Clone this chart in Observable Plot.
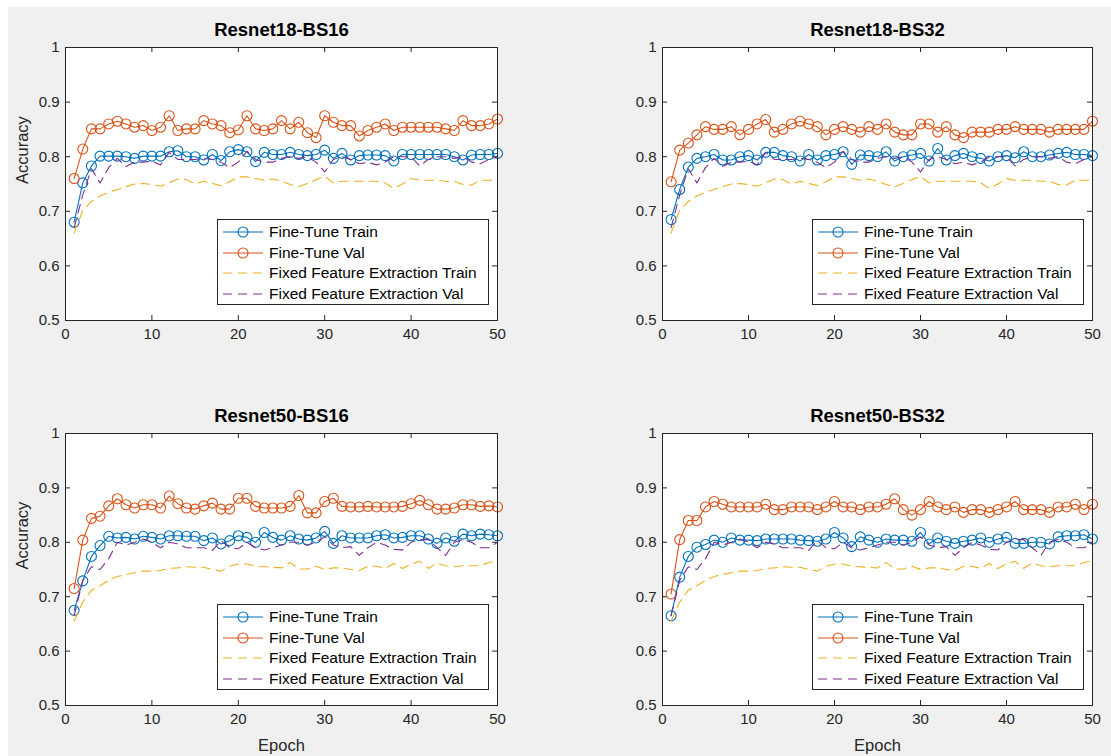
<!DOCTYPE html>
<html><head><meta charset="utf-8">
<script src="https://cdn.jsdelivr.net/npm/d3@7"></script>
<script src="https://cdn.jsdelivr.net/npm/@observablehq/plot@0.6"></script>
<style>
body{margin:0;background:#fff;}
#page{position:relative;width:1111px;height:756px;overflow:hidden;background:#fff;font-family:"Liberation Sans",Arial,sans-serif;}
#bg{position:absolute;left:8px;top:7px;right:0;bottom:0;background:#f0f0f0;}
.panel{position:absolute;}
.legend{position:absolute;background:#fff;border:1px solid #262626;box-sizing:border-box;font-size:15.5px;color:#000;}
.legend .row{position:absolute;left:0;height:20px;display:flex;align-items:center;white-space:nowrap;}
.legend svg{display:block;flex:none;}
</style></head>
<body><div id="page"><div id="bg"></div></div>
<script>
const epochs = d3.range(1, 51);
const titles = ["Resnet18-BS16", "Resnet18-BS32", "Resnet50-BS16", "Resnet50-BS32"];
const seriesNames = ["Fine-Tune Train", "Fine-Tune Val", "Fixed Feature Extraction Train", "Fixed Feature Extraction Val"];
const seriesColors = ["#0072BD", "#D95319", "#EDB120", "#7E2F8E"];
const xTicks = [0, 10, 20, 30, 40, 50];
const yTicks = [0.5, 0.6, 0.7, 0.8, 0.9, 1];
const yTickLabels = ["0.5", "0.6", "0.7", "0.8", "0.9", "1"];

const r18bs16Train = [0.680,0.752,0.783,0.801,0.801,0.801,0.800,0.797,0.801,0.801,
 0.801,0.809,0.811,0.800,0.800,0.794,0.804,0.793,0.809,0.813,
 0.809,0.791,0.808,0.804,0.804,0.808,0.804,0.802,0.804,0.812,
 0.797,0.806,0.794,0.802,0.803,0.803,0.802,0.792,0.804,0.804,
 0.804,0.804,0.804,0.804,0.800,0.794,0.803,0.804,0.804,0.806];
const r18bs16Val = [0.760,0.814,0.851,0.851,0.860,0.865,0.860,0.854,0.857,0.848,
 0.854,0.875,0.848,0.851,0.851,0.866,0.860,0.857,0.844,0.849,
 0.875,0.851,0.848,0.851,0.866,0.851,0.863,0.844,0.835,0.875,
 0.863,0.857,0.857,0.838,0.848,0.854,0.860,0.848,0.854,0.854,
 0.854,0.854,0.854,0.851,0.848,0.866,0.857,0.857,0.860,0.869];
const r18bs32Train = [0.685,0.740,0.781,0.797,0.800,0.804,0.794,0.794,0.800,0.802,
 0.794,0.808,0.808,0.802,0.800,0.792,0.804,0.794,0.802,0.804,
 0.809,0.786,0.803,0.802,0.800,0.809,0.792,0.800,0.803,0.806,
 0.792,0.815,0.794,0.802,0.806,0.800,0.797,0.792,0.800,0.802,
 0.798,0.809,0.800,0.800,0.803,0.806,0.808,0.804,0.804,0.802];
const r18bs32Val = [0.754,0.812,0.825,0.840,0.855,0.850,0.850,0.855,0.840,0.850,
 0.860,0.868,0.845,0.850,0.860,0.865,0.860,0.855,0.840,0.850,
 0.855,0.850,0.845,0.855,0.850,0.860,0.845,0.840,0.840,0.860,
 0.860,0.845,0.855,0.840,0.835,0.845,0.845,0.845,0.850,0.850,
 0.855,0.850,0.850,0.850,0.845,0.850,0.850,0.850,0.850,0.865];
const r50bs16Train = [0.675,0.729,0.774,0.794,0.811,0.808,0.809,0.806,0.811,0.809,
 0.806,0.812,0.812,0.811,0.811,0.803,0.808,0.797,0.803,0.812,
 0.809,0.800,0.818,0.809,0.804,0.812,0.806,0.804,0.808,0.820,
 0.798,0.812,0.808,0.808,0.808,0.812,0.814,0.808,0.809,0.812,
 0.812,0.806,0.798,0.808,0.802,0.815,0.812,0.815,0.814,0.812];
const r50bs16Val = [0.715,0.804,0.844,0.848,0.867,0.880,0.869,0.863,0.869,0.869,
 0.863,0.885,0.871,0.863,0.861,0.867,0.872,0.861,0.861,0.881,
 0.881,0.866,0.863,0.863,0.863,0.866,0.886,0.854,0.854,0.875,
 0.881,0.866,0.865,0.865,0.866,0.865,0.865,0.865,0.866,0.871,
 0.877,0.869,0.861,0.861,0.863,0.869,0.869,0.866,0.867,0.865];
const r50bs32Train = [0.665,0.736,0.774,0.791,0.796,0.804,0.800,0.808,0.804,0.804,
 0.803,0.806,0.806,0.806,0.806,0.804,0.803,0.802,0.806,0.818,
 0.808,0.792,0.810,0.804,0.800,0.806,0.804,0.804,0.802,0.818,
 0.797,0.808,0.802,0.798,0.802,0.804,0.808,0.800,0.806,0.809,
 0.798,0.798,0.800,0.800,0.797,0.810,0.812,0.812,0.814,0.806];
const r50bs32Val = [0.705,0.805,0.840,0.840,0.865,0.875,0.870,0.865,0.865,0.865,
 0.865,0.870,0.860,0.860,0.865,0.865,0.865,0.860,0.865,0.875,
 0.865,0.865,0.860,0.865,0.865,0.870,0.880,0.860,0.850,0.860,
 0.875,0.865,0.860,0.865,0.855,0.860,0.860,0.855,0.860,0.865,
 0.875,0.860,0.860,0.860,0.855,0.865,0.865,0.870,0.860,0.870];
const r18FixedTrain = [0.660,0.702,0.718,0.728,0.735,0.740,0.745,0.750,0.751,0.749,
 0.746,0.752,0.759,0.758,0.750,0.755,0.751,0.747,0.754,0.763,
 0.763,0.760,0.757,0.759,0.755,0.749,0.745,0.751,0.758,0.764,
 0.752,0.755,0.755,0.755,0.755,0.755,0.752,0.742,0.750,0.760,
 0.757,0.757,0.757,0.755,0.755,0.749,0.748,0.757,0.757,0.757];
const r18FixedVal = [0.670,0.730,0.778,0.752,0.780,0.797,0.782,0.790,0.790,0.792,
 0.785,0.808,0.795,0.795,0.795,0.797,0.795,0.790,0.780,0.790,
 0.810,0.795,0.790,0.790,0.797,0.800,0.797,0.800,0.790,0.772,
 0.795,0.800,0.795,0.787,0.790,0.785,0.790,0.800,0.800,0.800,
 0.783,0.795,0.800,0.800,0.797,0.800,0.790,0.787,0.795,0.800];
const r50FixedTrain = [0.655,0.690,0.712,0.720,0.730,0.737,0.741,0.744,0.747,0.747,
 0.748,0.752,0.753,0.755,0.754,0.754,0.750,0.747,0.756,0.760,
 0.760,0.756,0.755,0.754,0.753,0.763,0.751,0.751,0.756,0.750,
 0.753,0.753,0.750,0.748,0.756,0.756,0.752,0.761,0.752,0.760,
 0.765,0.752,0.762,0.757,0.755,0.757,0.757,0.757,0.763,0.766];
const r50FixedVal = [0.665,0.730,0.755,0.750,0.770,0.800,0.795,0.800,0.806,0.800,
 0.790,0.800,0.797,0.790,0.790,0.790,0.785,0.803,0.790,0.788,
 0.800,0.790,0.786,0.790,0.795,0.800,0.800,0.795,0.800,0.810,
 0.795,0.790,0.792,0.776,0.790,0.800,0.795,0.787,0.786,0.800,
 0.805,0.805,0.790,0.776,0.800,0.805,0.800,0.790,0.790,0.800];

const panelSeries = [
  [r18bs16Train, r18bs16Val, r18FixedTrain, r18FixedVal],
  [r18bs32Train, r18bs32Val, r18FixedTrain, r18FixedVal],
  [r50bs16Train, r50bs16Val, r50FixedTrain, r50FixedVal],
  [r50bs32Train, r50bs32Val, r50FixedTrain, r50FixedVal]
];

// layout (pixel boxes of each subplot)
const layout = [
  {left: 0, top: 0, w: 555, h: 378, ml: 65, mr: 58, mt: 47, mb: 58, ylab: true, xlab: false},
  {left: 555, top: 0, w: 556, h: 378, ml: 107, mr: 19, mt: 47, mb: 58, ylab: false, xlab: false},
  {left: 0, top: 378, w: 555, h: 378, ml: 65, mr: 58, mt: 55, mb: 51, ylab: true, xlab: true},
  {left: 555, top: 378, w: 556, h: 378, ml: 107, mr: 19, mt: 55, mb: 51, ylab: false, xlab: true}
];

const page = document.getElementById("page");
const axisColor = "#262626";
const font = "Liberation Sans, Arial, Helvetica, sans-serif";

layout.forEach((p, i) => {
  const fw = p.w - p.ml - p.mr, fh = p.h - p.mt - p.mb;
  const rows = [];
  panelSeries[i].forEach((vals, s) => vals.forEach((v, k) => rows.push({epoch: epochs[k], acc: v, series: seriesNames[s]})));
  const of = name => rows.filter(d => d.series === name);
  const marks = [
    Plot.frame({fill: "white", stroke: null}),
    Plot.axisX(xTicks, {tickSize: 0, tickPadding: 8, label: null, fontSize: 15, fill: axisColor, tickFormat: d => String(d)}),
    Plot.axisY(yTicks, {tickSize: 0, tickPadding: 6, label: null, fontSize: 15, fill: axisColor, tickFormat: d => yTickLabels[yTicks.indexOf(d)]}),
    Plot.ruleX(xTicks, {x: d => d, insetTop: fh - 5, stroke: axisColor}),
    Plot.ruleX(xTicks, {x: d => d, insetBottom: fh - 5, stroke: axisColor}),
    Plot.ruleY(yTicks, {y: d => d, insetRight: fw - 5, stroke: axisColor}),
    Plot.ruleY(yTicks, {y: d => d, insetLeft: fw - 5, stroke: axisColor}),
    Plot.line(of(seriesNames[0]), {x: "epoch", y: "acc", stroke: seriesColors[0], strokeWidth: 1.1}),
    Plot.dot(of(seriesNames[0]), {x: "epoch", y: "acc", stroke: seriesColors[0], r: 5, strokeWidth: 1.1, fill: "none"}),
    Plot.line(of(seriesNames[1]), {x: "epoch", y: "acc", stroke: seriesColors[1], strokeWidth: 1.1}),
    Plot.dot(of(seriesNames[1]), {x: "epoch", y: "acc", stroke: seriesColors[1], r: 5, strokeWidth: 1.1, fill: "none"}),
    Plot.line(of(seriesNames[2]), {x: "epoch", y: "acc", stroke: seriesColors[2], strokeWidth: 1.1, strokeDasharray: "9,6"}),
    Plot.line(of(seriesNames[3]), {x: "epoch", y: "acc", stroke: seriesColors[3], strokeWidth: 1.1, strokeDasharray: "9,6"}),
    Plot.frame({stroke: axisColor}),
    Plot.text([titles[i]], {text: d => d, frameAnchor: "top", lineAnchor: "middle", dy: -17, fontWeight: "bold", fontSize: 18.5, fill: "#000"})
  ];
  if (p.ylab) marks.push(Plot.text(["Accuracy"], {text: d => d, frameAnchor: "left", dx: -43, rotate: -90, fontSize: 16.5, fill: axisColor}));
  if (p.xlab) marks.push(Plot.text(["Epoch"], {text: d => d, frameAnchor: "bottom", lineAnchor: "middle", dy: 40, fontSize: 16.5, fill: axisColor}));
  const chart = Plot.plot({
    width: p.w, height: p.h,
    marginLeft: p.ml, marginRight: p.mr, marginTop: p.mt, marginBottom: p.mb,
    style: {background: "transparent", fontFamily: font, overflow: "visible"},
    x: {domain: [0, 50]},
    y: {domain: [0.5, 1]},
    marks
  });
  const wrap = document.createElement("div");
  wrap.className = "panel";
  wrap.style.left = p.left + "px";
  wrap.style.top = p.top + "px";
  wrap.appendChild(chart);
  page.appendChild(wrap);

  // legend
  const lg = document.createElement("div");
  lg.className = "legend";
  const lw = 272, lh = 86;
  const frameRight = p.left + p.w - p.mr, frameBottom = p.top + p.h - p.mb;
  lg.style.left = (frameRight - 8 - lw) + "px";
  lg.style.top = (frameBottom - 15 - lh) + "px";
  lg.style.width = lw + "px";
  lg.style.height = lh + "px";
  seriesNames.forEach((name, s) => {
    const row = document.createElement("div");
    row.className = "row";
    row.style.top = (2 + s * 20.7) + "px";
    const dash = s >= 2 ? 'stroke-dasharray="9,6"' : "";
    const marker = s < 2 ? `<circle cx="25" cy="10" r="5" fill="none" stroke="${seriesColors[s]}" stroke-width="1.1"/>` : "";
    row.innerHTML = `<svg width="50" height="20"><line x1="5" x2="45" y1="10" y2="10" stroke="${seriesColors[s]}" stroke-width="1.1" ${dash}/>${marker}</svg><span style="margin-left:1px">${name}</span>`;
    lg.appendChild(row);
  });
  page.appendChild(lg);
});
</script>
</body></html>
